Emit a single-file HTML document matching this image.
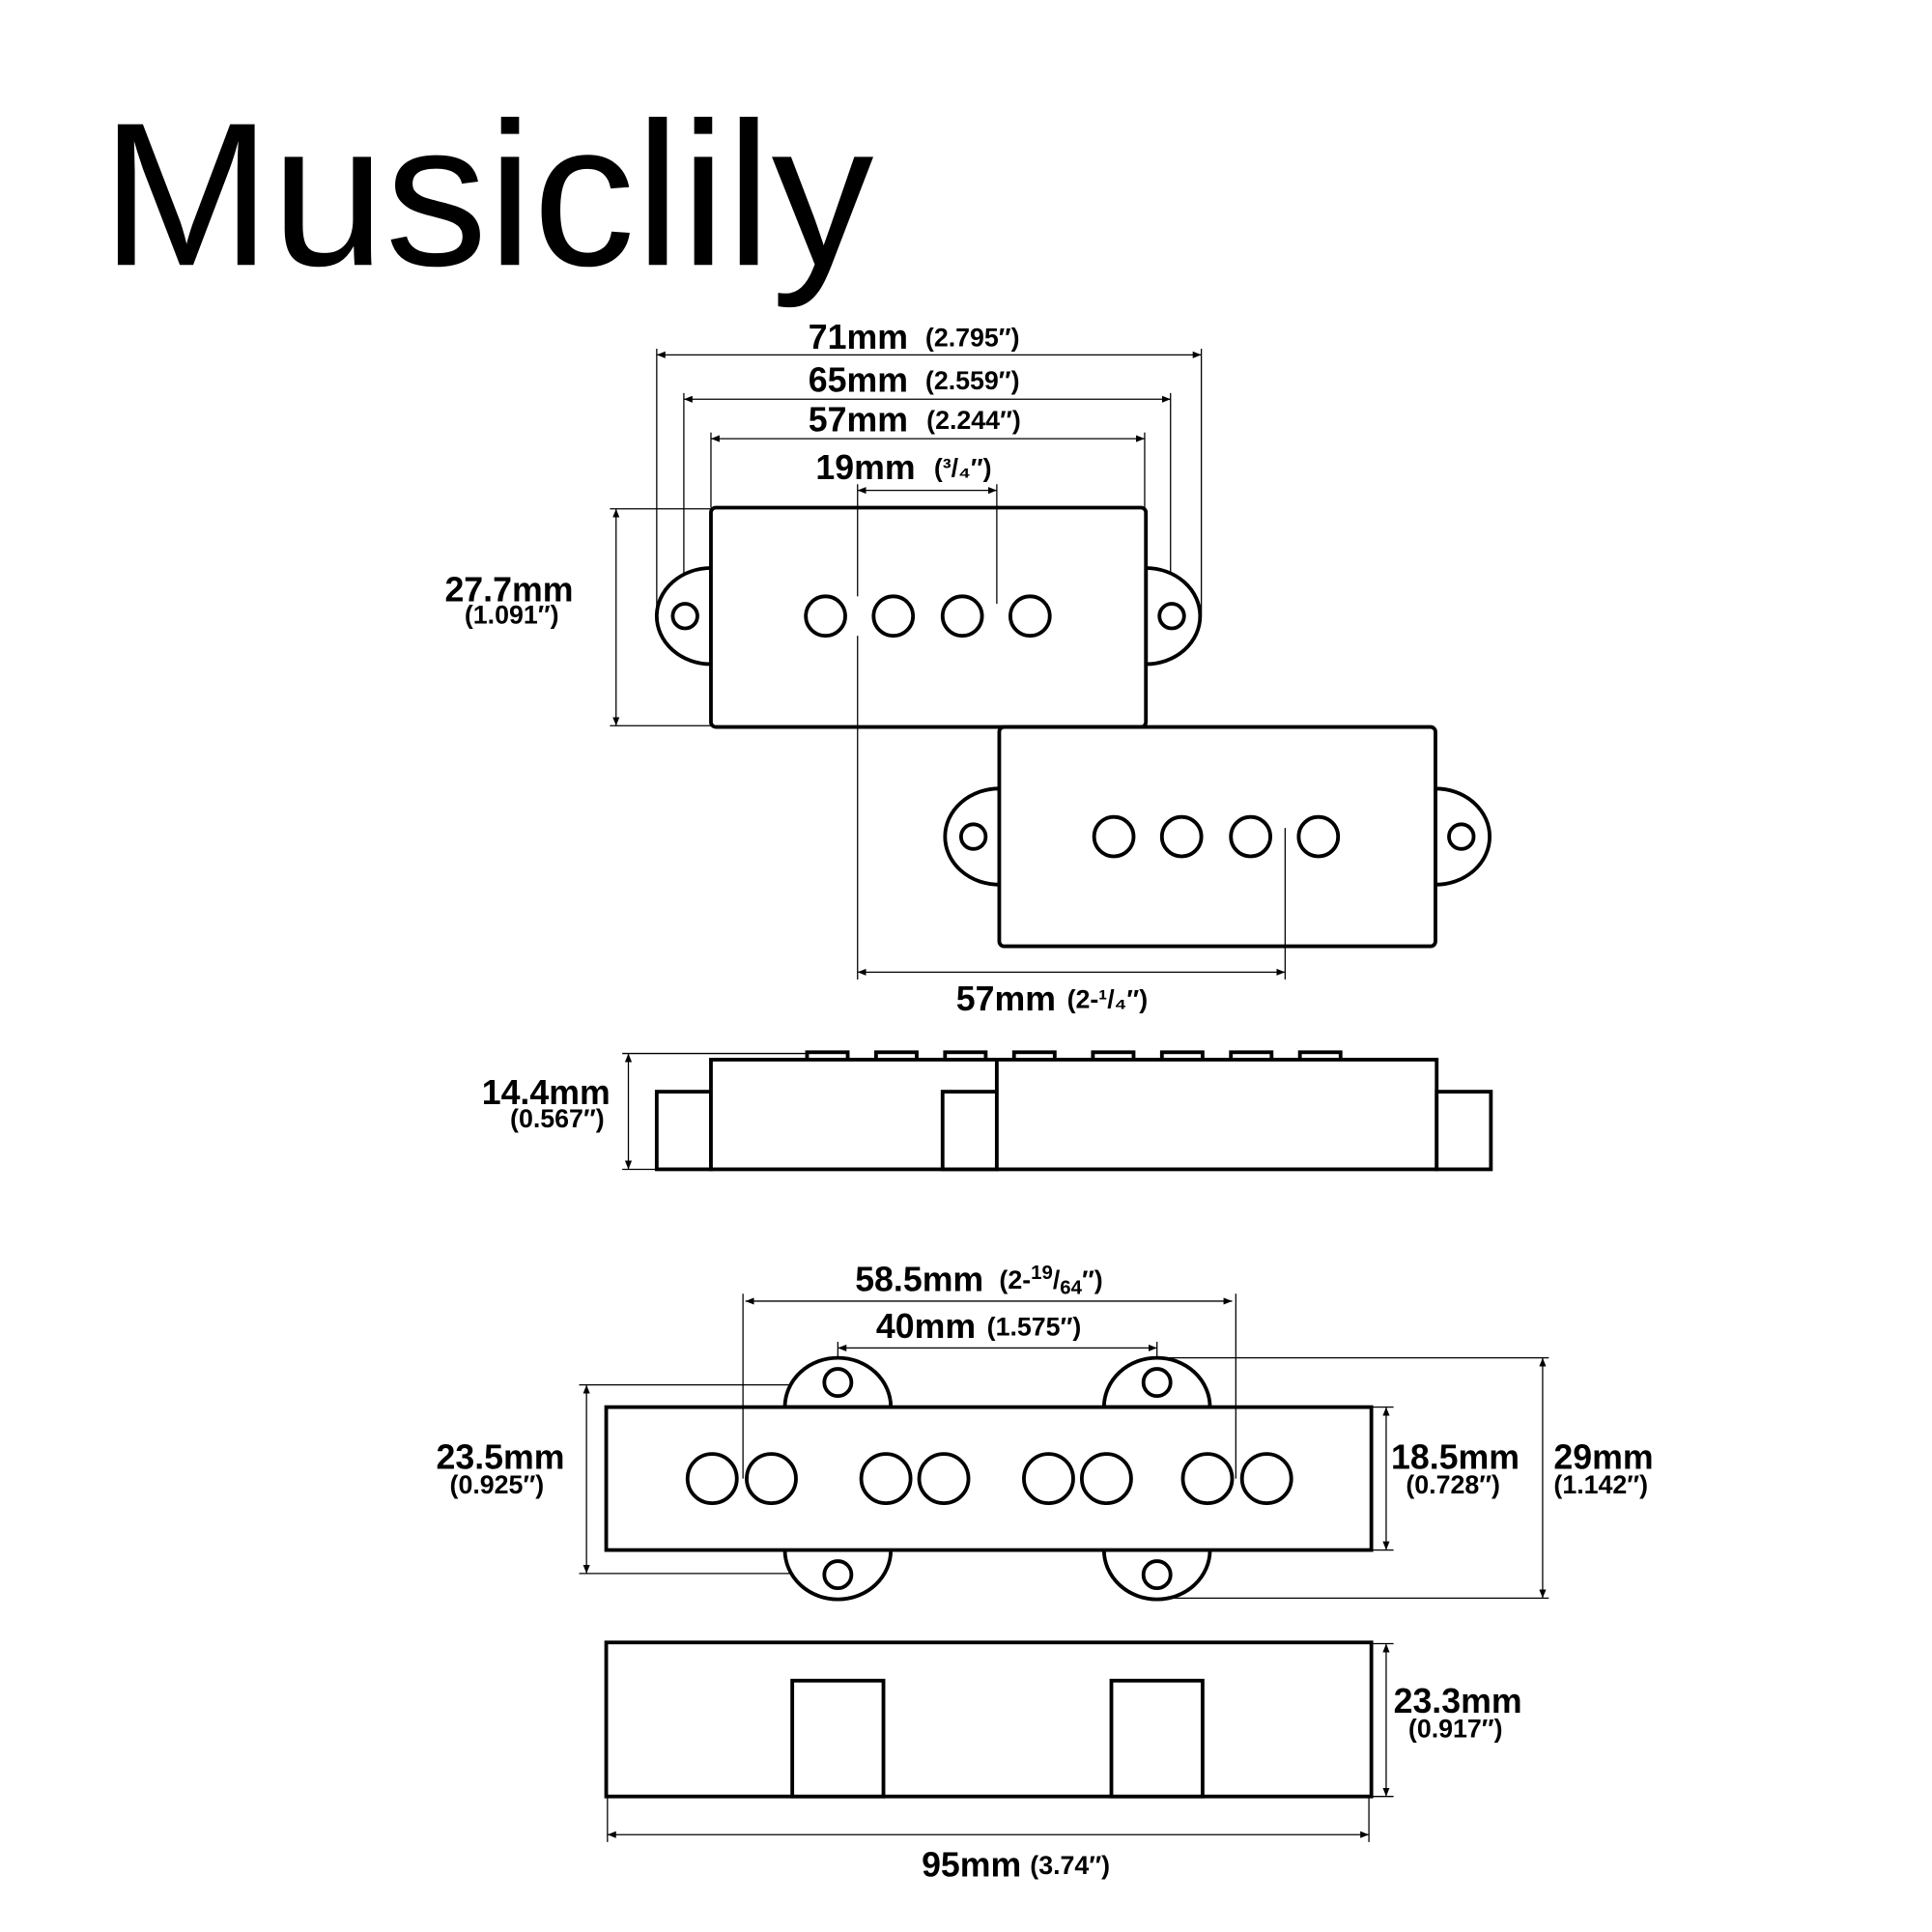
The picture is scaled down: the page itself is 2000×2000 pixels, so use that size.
<!DOCTYPE html>
<html><head><meta charset="utf-8"><style>
html,body{margin:0;padding:0;background:#fff;}
svg{display:block;}
text{font-family:"Liberation Sans",sans-serif;fill:#000;}
.b{font-weight:bold;}
</style></head><body>
<svg width="2000" height="2000" viewBox="0 0 1568 1568" xmlns="http://www.w3.org/2000/svg">
<defs>
<marker id="a" viewBox="0 0 10 10" refX="10" refY="5" markerWidth="7" markerHeight="7" orient="auto-start-reverse"><path d="M0,1 L10,5 L0,9 z" fill="#000"/></marker>
</defs>
<rect width="1568" height="1568" fill="#fff"/>
<text x="82" y="215" font-size="166">Musiclily</text>

<g stroke="#000" fill="none" stroke-width="1">
<line x1="533" y1="288" x2="975" y2="288" marker-start="url(#a)" marker-end="url(#a)"/>
<line x1="533" y1="283" x2="533" y2="498"/><line x1="975" y1="283" x2="975" y2="498"/>
<line x1="555" y1="324" x2="950" y2="324" marker-start="url(#a)" marker-end="url(#a)"/>
<line x1="555" y1="319" x2="555" y2="490"/><line x1="950" y1="319" x2="950" y2="490"/>
<line x1="577" y1="356" x2="929" y2="356" marker-start="url(#a)" marker-end="url(#a)"/>
<line x1="577" y1="351" x2="577" y2="412"/><line x1="929" y1="351" x2="929" y2="412"/>
<line x1="696" y1="398" x2="809" y2="398" marker-start="url(#a)" marker-end="url(#a)"/>
<line x1="696" y1="393" x2="696" y2="795"/><line x1="809" y1="393" x2="809" y2="490"/>
<line x1="696" y1="789" x2="1043" y2="789" marker-start="url(#a)" marker-end="url(#a)"/>
<line x1="1043" y1="672" x2="1043" y2="795"/>
<line x1="500" y1="413" x2="500" y2="589" marker-start="url(#a)" marker-end="url(#a)"/>
<line x1="495" y1="413" x2="577" y2="413"/><line x1="495" y1="589" x2="577" y2="589"/>
<line x1="510" y1="855" x2="510" y2="949" marker-start="url(#a)" marker-end="url(#a)"/>
<line x1="505" y1="855" x2="655" y2="855"/><line x1="505" y1="949" x2="533" y2="949"/>
<line x1="605" y1="1056" x2="1000" y2="1056" marker-start="url(#a)" marker-end="url(#a)"/>
<line x1="603" y1="1050" x2="603" y2="1200"/><line x1="1003" y1="1050" x2="1003" y2="1200"/>
<line x1="680" y1="1094" x2="939" y2="1094" marker-start="url(#a)" marker-end="url(#a)"/>
<line x1="680" y1="1089" x2="680" y2="1122"/><line x1="939" y1="1089" x2="939" y2="1122"/>
<line x1="476" y1="1124" x2="476" y2="1277" marker-start="url(#a)" marker-end="url(#a)"/>
<line x1="470" y1="1124" x2="680" y2="1124"/><line x1="470" y1="1277" x2="680" y2="1277"/>
<line x1="1125" y1="1142" x2="1125" y2="1258" marker-start="url(#a)" marker-end="url(#a)"/>
<line x1="1113" y1="1142" x2="1131" y2="1142"/><line x1="1113" y1="1258" x2="1131" y2="1258"/>
<line x1="1252" y1="1102" x2="1252" y2="1297" marker-start="url(#a)" marker-end="url(#a)"/>
<line x1="939" y1="1102" x2="1257" y2="1102"/><line x1="939" y1="1297" x2="1257" y2="1297"/>
<line x1="1125" y1="1334" x2="1125" y2="1458" marker-start="url(#a)" marker-end="url(#a)"/>
<line x1="1113" y1="1334" x2="1131" y2="1334"/><line x1="1113" y1="1458" x2="1131" y2="1458"/>
<line x1="493" y1="1489" x2="1111" y2="1489" marker-start="url(#a)" marker-end="url(#a)"/>
<line x1="493" y1="1458" x2="493" y2="1495"/><line x1="1111" y1="1458" x2="1111" y2="1495"/>
</g>

<g stroke="#000" fill="#fff" stroke-width="3">
<path d="M577,461 A44,39 0 0 0 577,539 Z"/>
<path d="M930,461 A44,39 0 0 1 930,539 Z"/>
<rect x="577" y="412" width="353" height="178" rx="4"/>
<circle cx="556" cy="500" r="10"/><circle cx="951" cy="500" r="10"/>
<circle cx="670" cy="500" r="16"/><circle cx="725" cy="500" r="16"/><circle cx="781" cy="500" r="16"/><circle cx="836" cy="500" r="16"/>
<path d="M811,640 A44,39 0 0 0 811,718 Z"/>
<path d="M1165,640 A44,39 0 0 1 1165,718 Z"/>
<rect x="811" y="590" width="354" height="178" rx="4"/>
<circle cx="790" cy="679" r="10"/><circle cx="1186" cy="679" r="10"/>
<circle cx="904" cy="679" r="16"/><circle cx="959" cy="679" r="16"/><circle cx="1015" cy="679" r="16"/><circle cx="1070" cy="679" r="16"/>
<rect x="655" y="854" width="33" height="6"/><rect x="711" y="854" width="33" height="6"/><rect x="767" y="854" width="33" height="6"/><rect x="823" y="854" width="33" height="6"/>
<rect x="887" y="854" width="33" height="6"/><rect x="943" y="854" width="33" height="6"/><rect x="999" y="854" width="33" height="6"/><rect x="1055" y="854" width="33" height="6"/>
<rect x="533" y="886" width="44" height="63"/>
<rect x="577" y="860" width="232" height="89"/>
<rect x="765" y="886" width="44" height="63"/>
<rect x="809" y="860" width="357" height="89"/>
<rect x="1166" y="886" width="44" height="63"/>
<path d="M637,1142 A43,40 0 0 1 723,1142 Z"/>
<path d="M896,1142 A43,40 0 0 1 982,1142 Z"/>
<path d="M637,1258 A43,40 0 0 0 723,1258 Z"/>
<path d="M896,1258 A43,40 0 0 0 982,1258 Z"/>
<rect x="492" y="1142" width="621" height="116"/>
<circle cx="680" cy="1122" r="11"/><circle cx="939" cy="1122" r="11"/>
<circle cx="680" cy="1278" r="11"/><circle cx="939" cy="1278" r="11"/>
<circle cx="578" cy="1200" r="20"/><circle cx="626" cy="1200" r="20"/>
<circle cx="719" cy="1200" r="20"/><circle cx="766" cy="1200" r="20"/>
<circle cx="851" cy="1200" r="20"/><circle cx="898" cy="1200" r="20"/>
<circle cx="980" cy="1200" r="20"/><circle cx="1028" cy="1200" r="20"/>
<rect x="492" y="1333" width="621" height="125"/>
<rect x="643" y="1364" width="74" height="94"/>
<rect x="902" y="1364" width="74" height="94"/>
</g>
<g stroke="#000" stroke-width="1">
<line x1="603" y1="1142" x2="603" y2="1200"/><line x1="1003" y1="1142" x2="1003" y2="1200"/>
<line x1="696" y1="412" x2="696" y2="484"/><line x1="696" y1="516" x2="696" y2="590"/><line x1="809" y1="412" x2="809" y2="490"/>
<line x1="1043" y1="672" x2="1043" y2="768"/>
</g>

<g class="b">
<text x="656" y="283" font-size="28">71mm</text><text x="751" y="281" font-size="21">(2.795″)</text>
<text x="656" y="318" font-size="28">65mm</text><text x="751" y="316" font-size="21">(2.559″)</text>
<text x="656" y="350" font-size="28">57mm</text><text x="752" y="348" font-size="21">(2.244″)</text>
<text x="662" y="389" font-size="28">19mm</text><text x="758" y="387" font-size="21">(³/₄″)</text>
<text x="361" y="488" font-size="28">27.7mm</text><text x="377" y="506" font-size="21">(1.091″)</text>
<text x="776" y="820" font-size="28">57mm</text><text x="866" y="818" font-size="21">(2-¹/₄″)</text>
<text x="391" y="896" font-size="28">14.4mm</text><text x="414" y="915" font-size="21">(0.567″)</text>
<text x="694" y="1048" font-size="28">58.5mm</text><text x="811" y="1046" font-size="21">(2-<tspan dy="-8" font-size="16">19</tspan><tspan dy="8">/</tspan><tspan dy="4" font-size="16">64</tspan><tspan dy="-4">″)</tspan></text>
<text x="711" y="1086" font-size="28">40mm</text><text x="801" y="1084" font-size="21">(1.575″)</text>
<text x="354" y="1192" font-size="28">23.5mm</text><text x="365" y="1212" font-size="21">(0.925″)</text>
<text x="1129" y="1192" font-size="28">18.5mm</text><text x="1141" y="1212" font-size="21">(0.728″)</text>
<text x="1261" y="1192" font-size="28">29mm</text><text x="1261" y="1212" font-size="21">(1.142″)</text>
<text x="1131" y="1390" font-size="28">23.3mm</text><text x="1143" y="1410" font-size="21">(0.917″)</text>
<text x="748" y="1523" font-size="28">95mm</text><text x="836" y="1521" font-size="21">(3.74″)</text>
</g>
</svg>
</body></html>
